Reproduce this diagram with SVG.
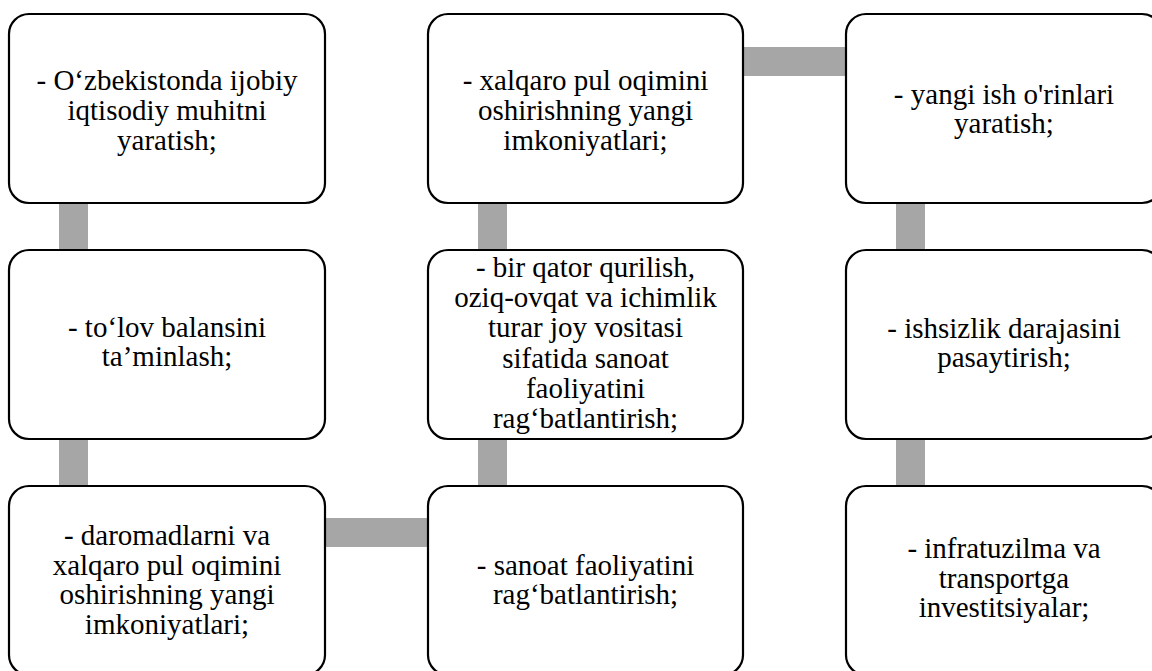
<svg xmlns="http://www.w3.org/2000/svg" width="1152" height="671" viewBox="0 0 1152 671">
<rect width="1152" height="671" fill="#fff"/>
<g id="connectors" fill="#a6a6a6">
<rect x="59" y="200" width="29" height="54"/>
<rect x="59" y="436" width="29" height="54"/>
<rect x="322" y="518" width="110" height="29"/>
<rect x="478" y="436" width="29" height="54"/>
<rect x="478" y="200" width="29" height="54"/>
<rect x="740" y="47" width="110" height="29"/>
<rect x="896" y="200" width="29" height="54"/>
<rect x="896" y="436" width="29" height="54"/>
</g>
<g id="n1">
<rect x="9" y="14" width="316" height="189" rx="20" fill="#fff" stroke="#000" stroke-width="2.2"/>
<text x="167" y="90" font-size="29" font-family="Times New Roman" text-anchor="middle">- O‘zbekistonda ijobiy</text>
<text x="167" y="120" font-size="29" font-family="Times New Roman" text-anchor="middle">iqtisodiy muhitni</text>
<text x="167" y="150" font-size="29" font-family="Times New Roman" text-anchor="middle">yaratish;</text>
</g>
<g id="n2">
<rect x="9" y="250" width="316" height="189" rx="20" fill="#fff" stroke="#000" stroke-width="2.2"/>
<text x="167" y="337" font-size="29" font-family="Times New Roman" text-anchor="middle">- to‘lov balansini</text>
<text x="167" y="366" font-size="29" font-family="Times New Roman" text-anchor="middle">ta’minlash;</text>
</g>
<g id="n3">
<rect x="9" y="486" width="316" height="189" rx="20" fill="#fff" stroke="#000" stroke-width="2.2"/>
<text x="167" y="545" font-size="29" font-family="Times New Roman" text-anchor="middle">- daromadlarni va</text>
<text x="167" y="574.5" font-size="29" font-family="Times New Roman" text-anchor="middle">xalqaro pul oqimini</text>
<text x="167" y="604" font-size="29" font-family="Times New Roman" text-anchor="middle">oshirishning yangi</text>
<text x="167" y="633.5" font-size="29" font-family="Times New Roman" text-anchor="middle">imkoniyatlari;</text>
</g>
<g id="n4">
<rect x="428" y="486" width="315" height="189" rx="20" fill="#fff" stroke="#000" stroke-width="2.2"/>
<text x="585.5" y="575" font-size="29" font-family="Times New Roman" text-anchor="middle">- sanoat faoliyatini</text>
<text x="585.5" y="604" font-size="29" font-family="Times New Roman" text-anchor="middle">rag‘batlantirish;</text>
</g>
<g id="n5">
<rect x="428" y="250" width="315" height="189" rx="20" fill="#fff" stroke="#000" stroke-width="2.2"/>
<text x="585.5" y="277" font-size="29" font-family="Times New Roman" text-anchor="middle">- bir qator qurilish,</text>
<text x="585.5" y="307.2" font-size="29" font-family="Times New Roman" text-anchor="middle">oziq-ovqat va ichimlik</text>
<text x="585.5" y="337.4" font-size="29" font-family="Times New Roman" text-anchor="middle">turar joy vositasi</text>
<text x="585.5" y="367.6" font-size="29" font-family="Times New Roman" text-anchor="middle">sifatida sanoat</text>
<text x="585.5" y="397.8" font-size="29" font-family="Times New Roman" text-anchor="middle">faoliyatini</text>
<text x="585.5" y="428" font-size="29" font-family="Times New Roman" text-anchor="middle">rag‘batlantirish;</text>
</g>
<g id="n6">
<rect x="428" y="14" width="315" height="189" rx="20" fill="#fff" stroke="#000" stroke-width="2.2"/>
<text x="585.5" y="90" font-size="29" font-family="Times New Roman" text-anchor="middle">- xalqaro pul oqimini</text>
<text x="585.5" y="120" font-size="29" font-family="Times New Roman" text-anchor="middle">oshirishning yangi</text>
<text x="585.5" y="150" font-size="29" font-family="Times New Roman" text-anchor="middle">imkoniyatlari;</text>
</g>
<g id="n7">
<rect x="846" y="14" width="316" height="189" rx="20" fill="#fff" stroke="#000" stroke-width="2.2"/>
<text x="1004" y="103.5" font-size="29" font-family="Times New Roman" text-anchor="middle">- yangi ish o'rinlari</text>
<text x="1004" y="133" font-size="29" font-family="Times New Roman" text-anchor="middle">yaratish;</text>
</g>
<g id="n8">
<rect x="846" y="250" width="316" height="189" rx="20" fill="#fff" stroke="#000" stroke-width="2.2"/>
<text x="1004" y="338" font-size="29" font-family="Times New Roman" text-anchor="middle">- ishsizlik darajasini</text>
<text x="1004" y="367" font-size="29" font-family="Times New Roman" text-anchor="middle">pasaytirish;</text>
</g>
<g id="n9">
<rect x="846" y="486" width="316" height="189" rx="20" fill="#fff" stroke="#000" stroke-width="2.2"/>
<text x="1004" y="558" font-size="29" font-family="Times New Roman" text-anchor="middle">- infratuzilma va</text>
<text x="1004" y="587.5" font-size="29" font-family="Times New Roman" text-anchor="middle">transportga</text>
<text x="1004" y="617" font-size="29" font-family="Times New Roman" text-anchor="middle">investitsiyalar;</text>
</g>
</svg>
